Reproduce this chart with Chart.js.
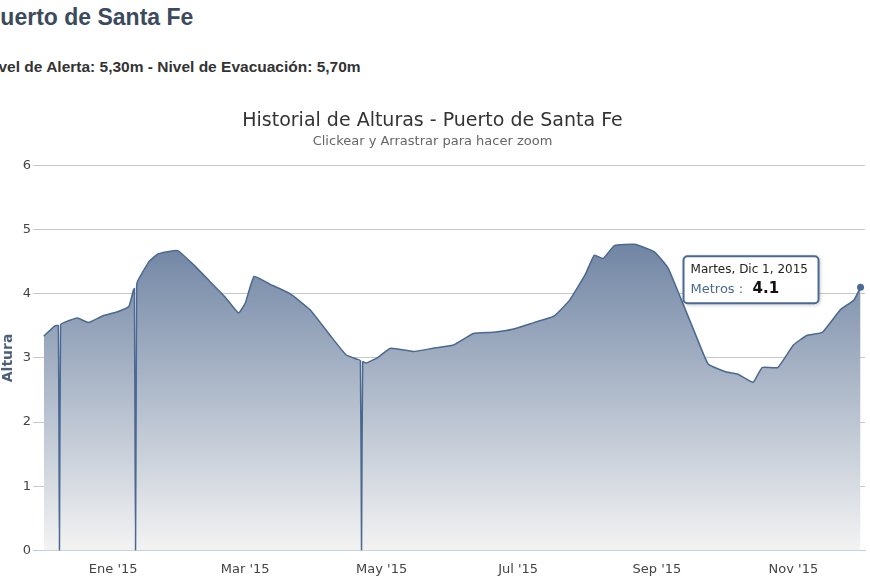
<!DOCTYPE html>
<html><head><meta charset="utf-8">
<script src="https://cdn.jsdelivr.net/npm/chart.js@4/dist/chart.umd.min.js"></script>
<style>
body{margin:0;width:870px;height:580px;overflow:hidden;background:#fff;font-family:"Liberation Sans",Arial,sans-serif;position:relative}
#h1{position:absolute;left:-15px;top:4px;font-size:23px;font-weight:bold;color:#3c4a5e;white-space:nowrap}
#h2{position:absolute;left:-17px;top:58px;font-size:15.5px;font-weight:bold;color:#333;white-space:nowrap}
#wrap{position:absolute;left:0;top:95px;width:870px;height:485px}
</style></head><body>
<div id="h1">Puerto de Santa Fe</div>
<div id="h2">Nivel de Alerta: 5,30m - Nivel de Evacuación: 5,70m</div>
<div id="wrap"><canvas id="c"></canvas></div>
<script>
const days=[0,5,6.5,7,7.5,9,15,20,26,33,38,40,40.5,41,41.5,42,47,51,58,60,67,74,81,87,90,94,101,110,119,128,135,140,141.5,142,142.5,144,149,155,165,174,183,192,201,210,219,228,235,242,246,250,255,264,273,279,285,292,297,305,310,317,321,328,335,341,348,356,362,365];
const heights=[3.34,3.5,3.5,0,3.52,3.55,3.62,3.55,3.65,3.72,3.8,4.05,4.08,0,4.12,4.2,4.5,4.62,4.67,4.67,4.45,4.2,3.95,3.7,3.85,4.27,4.15,4.0,3.75,3.35,3.05,2.98,2.96,0,2.94,2.92,3.0,3.15,3.1,3.15,3.2,3.38,3.4,3.45,3.55,3.65,3.9,4.3,4.6,4.55,4.75,4.77,4.65,4.4,3.9,3.3,2.9,2.78,2.75,2.62,2.85,2.85,3.2,3.35,3.4,3.75,3.9,4.1];
const tickDays=[31,90,151,212,274,335];
const tickLabels=["Ene '15","Mar '15","May '15","Jul '15","Sep '15","Nov '15"];
const yTicks=[0,1,2,3,4,5,6];
const points=days.map((d,i)=>({x:d,y:heights[i]}));
const tipPlugin={id:'tip',afterDatasetsDraw(ch){
 const m=ch.getDatasetMeta(0).data; const p=m[m.length-1]; const c=ch.ctx;
 const px=p.x,py=p.y; c.save();
 c.beginPath();c.arc(px,py,3.5,0,Math.PI*2);c.fillStyle='#4a6a95';c.fill();
 const bx=px-177,by=py-31,bw=135,bh=47;
 c.shadowColor='rgba(0,0,0,0.3)';c.shadowBlur=4;c.shadowOffsetX=1;c.shadowOffsetY=1;
 c.beginPath();c.roundRect(bx,by,bw,bh,4);c.fillStyle='#fff';c.fill();
 c.shadowColor='transparent';c.lineWidth=2;c.strokeStyle='#4a6a95';c.stroke();
 c.fillStyle='#222';c.font='12px "DejaVu Sans"';c.textBaseline='middle';
 c.fillText('Martes, Dic 1, 2015',bx+7,by+14);
 c.fillStyle='#4a6a95';c.font='13px "DejaVu Sans"';c.fillText('Metros :',bx+7,by+33);
 c.fillStyle='#111';c.font='bold 15px "DejaVu Sans"';c.fillText(heights[heights.length-1].toString(),bx+69,by+33);
 c.restore();}};
new Chart(document.getElementById('c'),{type:'line',
 data:{datasets:[{data:points,borderColor:'#4a6890',borderWidth:1.5,pointRadius:0,tension:0.12,fill:'origin',
  backgroundColor:(ctx)=>{const a=ctx.chart.chartArea;if(!a)return '#7a8fae';const g=ctx.chart.ctx.createLinearGradient(0,a.top,0,a.bottom);g.addColorStop(0,'#4f6990');g.addColorStop(1,'#f3f3f3');return g;}}]},
 options:{responsive:true,maintainAspectRatio:false,animation:false,layout:{padding:{left:0,right:5,bottom:0}},
  plugins:{legend:{display:false},tooltip:{enabled:false},
   title:{display:true,text:'Historial de Alturas - Puerto de Santa Fe',color:'#333',font:{size:19,family:'"DejaVu Sans"',weight:'normal'},padding:{top:15,bottom:1}},
   subtitle:{display:true,text:'Clickear y Arrastrar para hacer zoom',color:'#666',font:{size:13,family:'"DejaVu Sans"'},padding:{bottom:16}}},
  scales:{x:{type:'linear',min:-3,max:367,grid:{display:false},border:{color:'#c0d0e0'},
    afterBuildTicks:(s)=>{s.ticks=tickDays.map(v=>({value:v}));},
    ticks:{color:'#444',font:{size:13,family:'"DejaVu Sans"'},callback:(v)=>tickLabels[tickDays.indexOf(v)]??''}},
   y:{min:0,max:6,afterBuildTicks:(s)=>{s.ticks=yTicks.map(v=>({value:v}));},
    grid:{color:'#c8c8c8',tickLength:4},border:{display:false},
    ticks:{color:'#444',font:{size:13,family:'"DejaVu Sans"'},padding:2},
    title:{display:true,text:'Altura',color:'#4d5f7a',font:{size:14,weight:'bold',family:'"DejaVu Sans"'},padding:{top:0,bottom:4}}}}},
 plugins:[tipPlugin]});
</script></body></html>
